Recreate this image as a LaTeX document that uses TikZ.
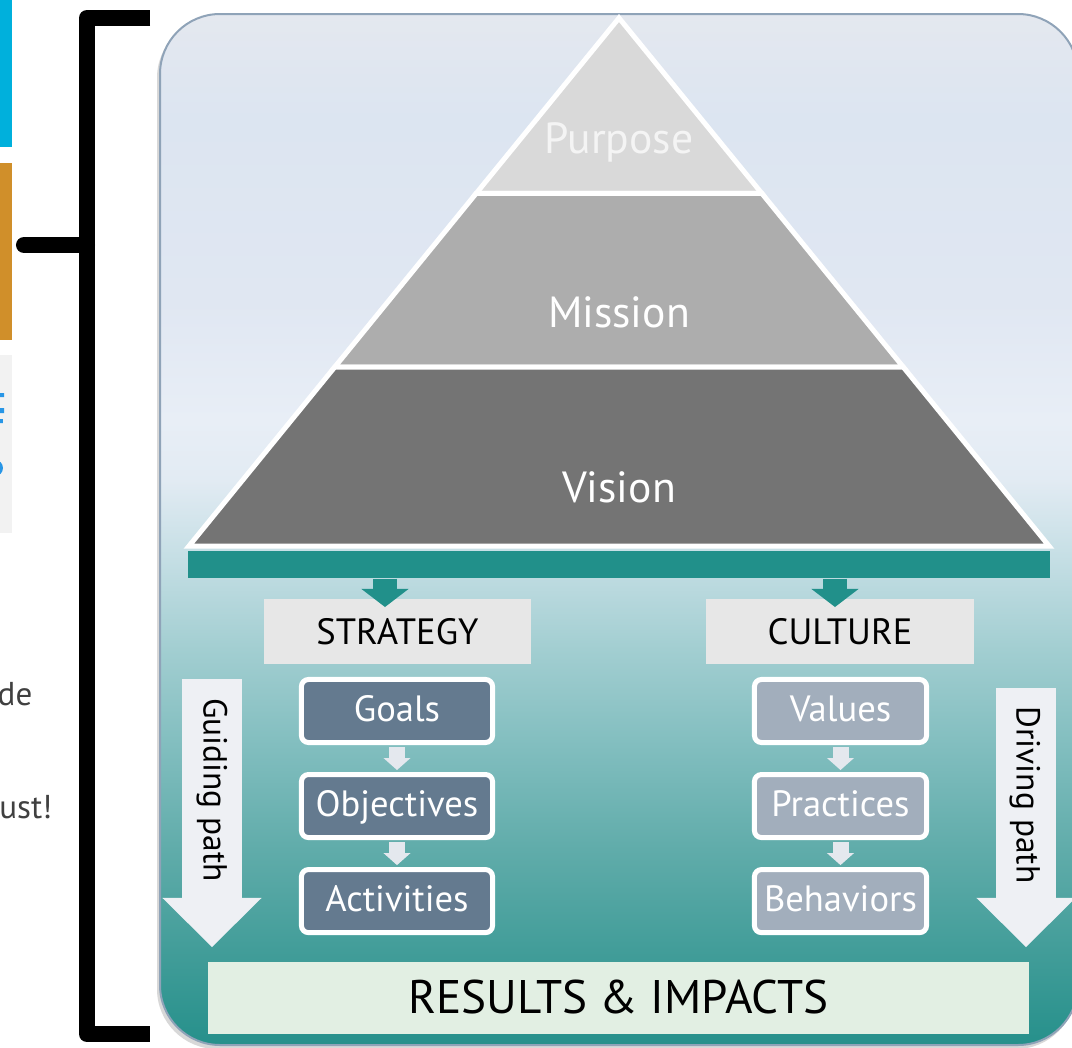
\documentclass[tikz,border=0pt]{standalone}
\usepackage{fontspec}
\setmainfont{PT Sans}
\usetikzlibrary{positioning,calc,arrows.meta}
% colours
\definecolor{slideCyan}{RGB}{0,176,220}
\definecolor{slideOrange}{RGB}{208,143,42}
\definecolor{slideGrey}{RGB}{242,242,242}
\definecolor{slideBlue}{RGB}{40,150,230}
\definecolor{slideText}{RGB}{64,64,64}
\definecolor{panelBorder}{RGB}{143,163,184}
\definecolor{purposeGrey}{RGB}{217,217,217}
\definecolor{missionGrey}{RGB}{173,173,173}
\definecolor{visionGrey}{RGB}{116,116,116}
\definecolor{purposeText}{RGB}{244,244,244}
\definecolor{tealBar}{RGB}{33,144,138}
\definecolor{headGrey}{RGB}{231,231,231}
\definecolor{strategySlate}{RGB}{100,122,143}
\definecolor{cultureSlate}{RGB}{162,174,188}
\definecolor{stepArrowGrey}{RGB}{228,232,238}
\definecolor{pathWhite}{RGB}{238,240,244}
\definecolor{resultGreen}{RGB}{226,239,227}
% panel gradient, bottom to top
\definecolor{panelA}{RGB}{38,144,139}
\definecolor{panelB}{RGB}{66,157,153}
\definecolor{panelC}{RGB}{96,172,170}
\definecolor{panelD}{RGB}{128,189,190}
\definecolor{panelE}{RGB}{162,206,209}
\definecolor{panelF}{RGB}{196,222,228}
\definecolor{panelG}{RGB}{226,235,243}
\definecolor{panelH}{RGB}{232,238,246}
\definecolor{panelI}{RGB}{224,231,242}
\definecolor{panelJ}{RGB}{220,229,241}
\definecolor{panelK}{RGB}{228,232,239}
\pgfdeclareverticalshading{panelshade}{100bp}{%
  color(0bp)=(panelA); color(25bp)=(panelA); color(29.6bp)=(panelB);
  color(34.5bp)=(panelC); color(39.3bp)=(panelD); color(44.2bp)=(panelE);
  color(48.5bp)=(panelF); color(52.4bp)=(panelG); color(55.3bp)=(panelH);
  color(61.1bp)=(panelI); color(69.9bp)=(panelJ); color(75bp)=(panelK);
  color(100bp)=(panelK)}
\tikzset{%
  layer/.style={draw=white, line width=0.5mm, line join=miter},
  layerLabel/.style={font=\fontsize{12.4}{14}\selectfont, text=white, anchor=base},
  headBox/.style={rectangle, fill=headGrey, minimum width=2.67cm, minimum height=6.5mm, inner sep=0pt, text height=0.85em, text depth=0.1em, font=\fontsize{10.4}{12}\selectfont},
  %
  strategyStep/.style={rectangle, rounded corners=0.7mm, draw=white, line width=0.5mm, fill=strategySlate, text=white, minimum width=1.91cm, minimum height=6.3mm, inner sep=0pt, text height=0.8em, text depth=0.2em, font=\fontsize{10.4}{12}\selectfont},
  cultureStep/.style={strategyStep, fill=cultureSlate, minimum width=1.72cm},
  % arrows
  stepArrow/.style={draw=stepArrowGrey, line width=1.6mm, -{Triangle[width=2.7mm,length=1.2mm,line width=0pt]}, shorten <=0.2mm, shorten >=0.2mm},
  tealArrow/.style={draw=tealBar, line width=2.4mm, -{Triangle[width=4.7mm,length=1.8mm,line width=0pt]}},
  pathArrow/.style={draw=pathWhite, line width=6mm, -{Triangle[width=9.9mm,length=4.9mm,line width=0pt]}},
  pathLabel/.style={rotate=-90, font=\fontsize{9.5}{11}\selectfont},
  %
  resultBox/.style={rectangle, fill=resultGreen, minimum width=8.21cm, minimum height=7.2mm, inner sep=0pt, text height=0.88em, text depth=0.02em, font=\fontsize{13.4}{16}\selectfont},
  fragText/.style={text=slideText, anchor=base east, inner sep=0pt, font=\fontsize{9.4}{11}\selectfont}}
\begin{document}
\begin{tikzpicture}[x=0.01cm,y=-0.01cm]
    \useasboundingbox (0,0) rectangle (1072,1048);
    \clip (0,0) rectangle (1072,1048);
    \fill[white] (0,0) rectangle (1072,1048);

    % pieces of the slide on the left
    \fill[slideCyan] (0,0) rectangle (12,147);
    \fill[slideOrange] (0,163) rectangle (12,340);
    \fill[slideGrey] (0,355) rectangle (12,533);
    \fill[slideBlue] (0,393) rectangle (4,397) (0,408) rectangle (4,413) (0,419) rectangle (3,423);
    \fill[slideBlue] (-5,468) circle (8);
    \node[fragText] (fragDe) at (33,705) {de};
    \node[fragText] (fragUst) at (53,818) {ust!};

    % bracket
    \draw[line width=1.6mm, line join=round] (150,18) -- (87,18) -- (87,1034) -- (150,1034);
    \draw[line width=1.6mm, line cap=round] (87,245) -- (24,245);

    % panel
    \fill[black!30, opacity=0.5, rounded corners=6mm] (157,18) rectangle (1076,1049);
    \shade[shading=panelshade, rounded corners=6mm] (160,14) rectangle (1078,1045);
    \draw[panelBorder, line width=0.2mm, rounded corners=6mm] (160,14) rectangle (1078,1045);

    % pyramid
    \coordinate (apex) at (619,18);
    \coordinate (baseL) at (189,546);
    \coordinate (baseR) at (1049,546);
    \coordinate (pL) at ($(apex)!0.332!(baseL)$);
    \coordinate (pR) at ($(apex)!0.332!(baseR)$);
    \coordinate (mL) at ($(apex)!0.661!(baseL)$);
    \coordinate (mR) at ($(apex)!0.661!(baseR)$);
    \filldraw[layer, fill=purposeGrey] (apex) -- (pR) -- (pL) -- cycle;
    \filldraw[layer, fill=missionGrey] (pL) -- (pR) -- (mR) -- (mL) -- cycle;
    \filldraw[layer, fill=visionGrey] (mL) -- (mR) -- (baseR) -- (baseL) -- cycle;
    \node[layerLabel, text=purposeText] (purpose) at (619,153) {Purpose};
    \node[layerLabel] (mission) at (619,327) {Mission};
    \node[layerLabel] (vision) at (619,502) {Vision};

    \node[fill=tealBar, minimum width=8.62cm, minimum height=2.7mm, inner sep=0pt] (bar) at (619,564.5) {};

    % strategy and culture
    \node[headBox] (strategy) at (397.5,631.5) {STRATEGY};
    \node[headBox] (culture) at (840,631.5) {CULTURE};
    \coordinate (strategyTip) at (385,607);
    \coordinate (cultureTip) at (835,607);
    \draw[tealArrow] (bar.south -| strategyTip) -- (strategyTip);
    \draw[tealArrow] (bar.south -| cultureTip) -- (cultureTip);

    \node[strategyStep] (goals) at (397,711) {Goals};
    \node[strategyStep, below=2.7mm of goals] (objectives) {Objectives};
    \node[strategyStep, below=2.7mm of objectives] (activities) {Activities};

    \node[cultureStep] (values) at (840.5,711) {Values};
    \node[cultureStep, below=2.7mm of values] (practices) {Practices};
    \node[cultureStep, below=2.7mm of practices] (behaviors) {Behaviors};

    \foreach \a/\b in {goals/objectives, objectives/activities, values/practices, practices/behaviors}
        \draw[stepArrow] (\a) -- (\b);

    % guiding and driving paths
    \coordinate (guideTop) at (212,679);
    \coordinate (guideTip) at (212,947);
    \draw[pathArrow] (guideTop) -- (guideTip);
    \node[pathLabel] (guiding) at (212,790) {Guiding path};
    \coordinate (driveTop) at (1026,688);
    \coordinate (driveTip) at (1026,947);
    \draw[pathArrow] (driveTop) -- (driveTip);
    \node[pathLabel] (driving) at (1025,795) {Driving path};

    \node[resultBox] (results) at (618.5,998) {RESULTS \& IMPACTS};

\end{tikzpicture}
\end{document}
